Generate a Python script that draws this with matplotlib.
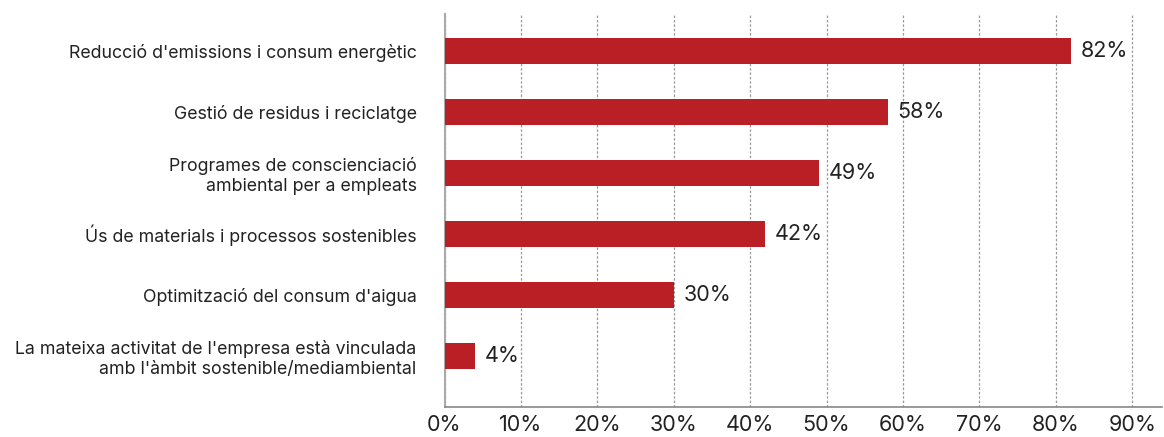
import matplotlib
matplotlib.use("Agg")
import matplotlib.pyplot as plt

plt.rcParams['font.family'] = ['Inter', 'DejaVu Sans']

categories = [
    "Reducció d'emissions i consum energètic",
    "Gestió de residus i reciclatge",
    "Programes de conscienciació\nambiental per a empleats",
    "Ús de materials i processos sostenibles",
    "Optimització del consum d'aigua",
    "La mateixa activitat de l'empresa està vinculada\namb l'àmbit sostenible/mediambiental",
]
values = [82, 58, 49, 42, 30, 4]
xticks = [0, 10, 20, 30, 40, 50, 60, 70, 80, 90]
xticklabels = [f"{t}%" for t in xticks]

fig = plt.figure(figsize=(11.64, 4.37), dpi=100)
ax = fig.add_axes([444.5/1164, (437-407)/437, (1162-444.5)/1164, (407-14)/437])

y = list(range(len(categories)))
ax.barh(y, values, height=0.426, color='#BA1F25', zorder=3)
for yi, v in zip(y, values):
    ax.annotate(f"{v}%", xy=(v, yi), xytext=(7, 0), textcoords='offset points',
                va='center', ha='left', fontsize=15.5, color='#222222')

ax.set_xlim(0, 93.9)
ax.set_ylim(5.84, -0.60)
ax.set_yticks(y)
ax.set_yticklabels(categories, fontsize=12.8, color='#222222', linespacing=1.25)
for lab in ax.get_yticklabels():
    lab.set_horizontalalignment('right')
ax.tick_params(axis='y', length=0, pad=20)
ax.set_xticks(xticks)
ax.set_xticklabels(xticklabels, fontsize=15.5, color='#222222')
ax.tick_params(axis='x', length=0, pad=6)

ax.grid(axis='x', linestyle=(0, (2, 1.5)), color='#999999', linewidth=0.9, zorder=0)
ax.spines['top'].set_visible(False)
ax.spines['right'].set_visible(False)
ax.spines['left'].set_color('#aaaaaa')
ax.spines['left'].set_linewidth(1.5)
ax.spines['bottom'].set_color('#888888')
ax.spines['bottom'].set_linewidth(1.2)

fig.savefig('out.png', dpi=100)
